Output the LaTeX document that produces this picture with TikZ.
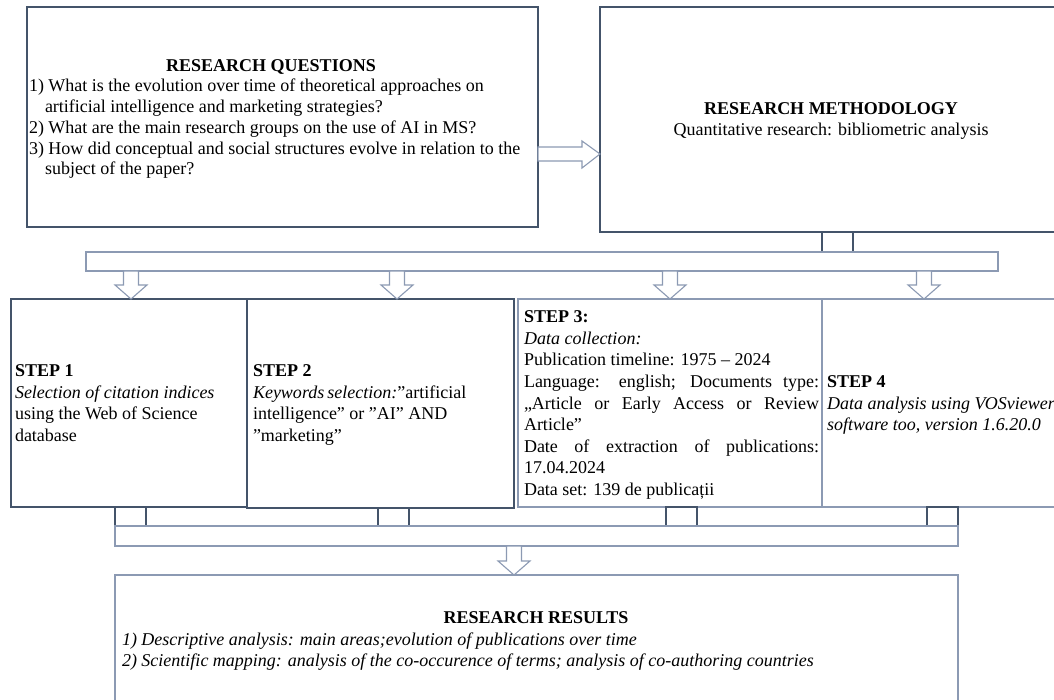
\documentclass[tikz,border=0pt]{standalone}
\usepackage{fontspec}
\setmainfont{Liberation Serif}
\usetikzlibrary{calc}
\definecolor{boxdark}{HTML}{44546A}
\definecolor{boxlight}{HTML}{8C9AB3}
\newcommand\DownArr[4]{% name, x, shaft top y, tip y
  \draw[lightline] ({#2-7.5},#3) -- ({#2+7.5},#3) -- ({#2+7.5},{#4-14}) -- ({#2+16},{#4-14})
    -- (#2,#4) -- ({#2-16},{#4-14}) -- ({#2-7.5},{#4-14}) -- cycle;
  \coordinate (#1) at (#2,#4);}
\begin{document}
\begin{tikzpicture}[x=1pt,y=-1pt,
  darkline/.style={draw=boxdark,line width=1.1pt},
  lightline/.style={draw=boxlight,line width=1.1pt,fill=white},
  box/.style={rectangle,inner sep=0pt,outer sep=0pt,anchor=north west},
  txt/.style={inner sep=0pt,outer sep=0pt,anchor=base west,font=\fontsize{18}{21.6}\selectfont},
  ctxt/.style={txt,anchor=base},
]
\useasboundingbox[fill=white] (0,0) rectangle (1054,700);

% main boxes
\node[box,darkline,minimum width=511pt,minimum height=220pt] (rq) at (27,7) {};
\node[box,darkline,minimum width=460pt,minimum height=225pt] (rm) at (600,7) {};

% right arrow RQ -> RM
\draw[lightline] (rq.east |- 0,147) -- (582,147) -- (582,141) -- (rm.west |- 0,154)
  -- (582,168) -- (582,161) -- (rq.east |- 0,161) -- cycle;

% connector RM -> bar
\draw[darkline] (822,232) rectangle (853,252);
\node[box,lightline,minimum width=912pt,minimum height=19pt] (bar1) at (86,252) {};

% step boxes
\node[box,darkline,minimum width=236pt,minimum height=208pt] (s1) at (11,299) {};
\node[box,darkline,minimum width=267pt,minimum height=209pt] (s2) at (247,299) {};
\node[box,lightline,minimum width=304pt,minimum height=208pt] (s3) at (518,299) {};
\node[box,lightline,minimum width=240pt,minimum height=208pt] (s4) at (822,299) {};

% arrows bar -> steps
\DownArr{a1}{131}{271}{299}
\DownArr{a2}{397}{271}{299}
\DownArr{a3}{670}{271}{299}
\DownArr{a4}{924}{271}{299}

% connectors steps -> lower bar
\draw[darkline] (115,507) rectangle (146,526);
\draw[darkline] (378,508) rectangle (409,526);
\draw[darkline] (666,507) rectangle (697,526);
\draw[darkline] (927,507) rectangle (958,526);
\node[box,lightline,minimum width=843pt,minimum height=20pt] (bar2) at (115,526) {};

% arrow to results
\DownArr{a5}{514}{546}{575}
\node[box,lightline,minimum width=843pt,minimum height=140pt] (res) at (115,575) {};

% RQ text
\node[ctxt] (rqt) at (271,71.3) {\bfseries RESEARCH QUESTIONS};
\node[txt] (rq1) at (29,92) {1) What is the evolution over time of theoretical approaches on};
\node[txt] (rq2) at (45,112.7) {artificial intelligence and marketing strategies?};
\node[txt] (rq3) at (29,133.4) {2) What are the main research groups on the use of AI in MS?};
\node[txt] (rq4) at (29,154.1) {3) How did conceptual and social structures evolve in relation to the};
\node[txt] (rq5) at (45,174.8) {subject of the paper?};

% RM text
\node[ctxt] (rmt) at (831,115) {\bfseries RESEARCH METHODOLOGY};
\node[ctxt] (rms) at (831,136) {Quantitative research: bibliometric analysis};

% Step 1
\node[txt] (s1a) at (15,376.6) {\bfseries STEP 1};
\node[txt] (s1b) at (15,398.2) {\itshape Selection of citation indices};
\node[txt] (s1c) at (15,419.8) {using the Web of Science};
\node[txt] (s1d) at (15,441.4) {database};

% Step 2
\node[txt] (s2a) at (253,376.6) {\bfseries STEP 2};
\node[txt] (s2b) at (253,398.2) {\makebox[212pt][s]{\itshape Keywords selection:\upshape”artificial}};
\node[txt] (s2c) at (253,419.8) {intelligence” or ”AI” AND};
\node[txt] (s2d) at (253,441.4) {”marketing”};

% Step 3
\node[txt] (s3a) at (524,322.6) {\bfseries STEP 3:};
\node[txt] (s3b) at (524,344.2) {\itshape Data collection:};
\node[txt] (s3c) at (524,365.8) {Publication timeline: 1975 – 2024};
\node[txt] (s3d) at (524,387.4) {\makebox[295pt][s]{Language: english; Documents type:}};
\node[txt] (s3e) at (524,409.0) {\makebox[295pt][s]{„Article or Early Access or Review}};
\node[txt] (s3f) at (524,430.6) {Article”};
\node[txt] (s3g) at (524,452.2) {\makebox[295pt][s]{Date of extraction of publications:}};
\node[txt] (s3h) at (524,473.8) {17.04.2024};
\node[txt] (s3i) at (524,495.4) {Data set: 139 de publicații};

% Step 4
\node[txt] (s4a) at (827,387.4) {\bfseries STEP 4};
\node[txt] (s4b) at (827,409.0) {\itshape Data analysis using VOSviewer};
\node[txt] (s4c) at (827,430.6) {\itshape software too, version 1.6.20.0};

% Results text
\node[ctxt] (rest) at (536,623.5) {\bfseries RESEARCH RESULTS};
\node[txt] (res1) at (122,645) {\itshape 1) Descriptive analysis: main areas;evolution of publications over time};
\node[txt] (res2) at (122,666.5) {\itshape 2) Scientific mapping: analysis of the co-occurence of terms; analysis of co-authoring countries};
\end{tikzpicture}
\end{document}
